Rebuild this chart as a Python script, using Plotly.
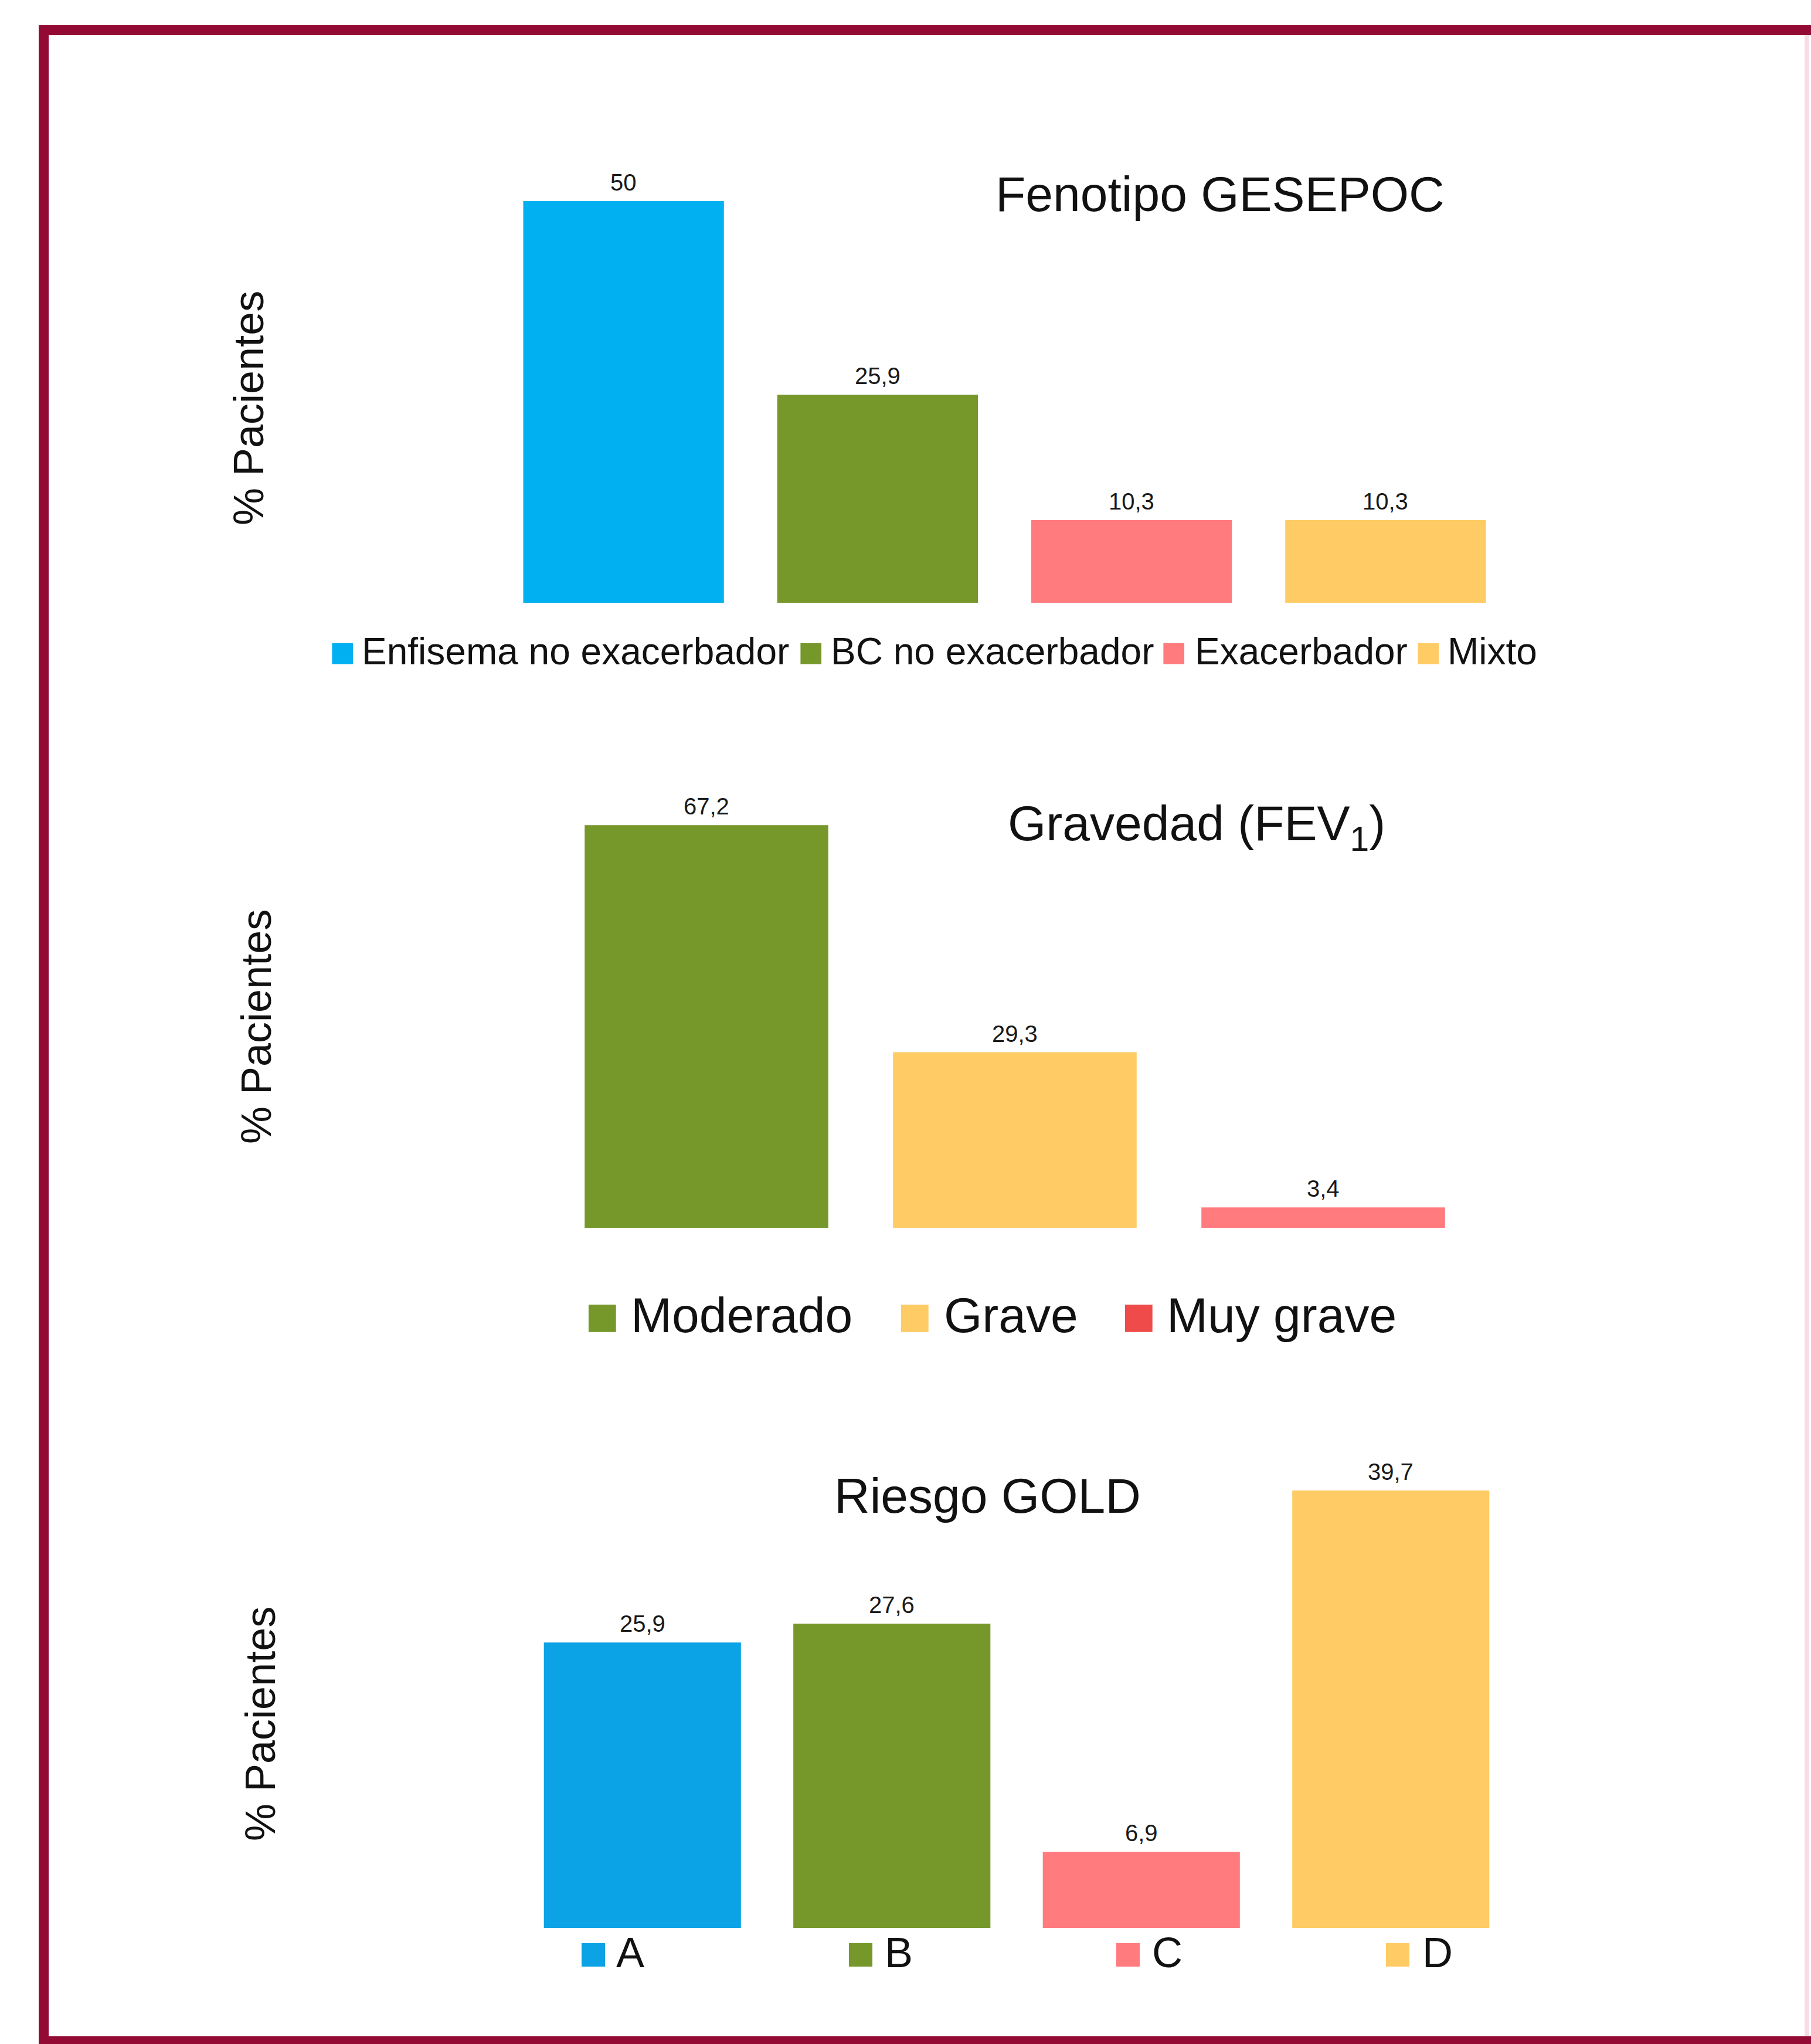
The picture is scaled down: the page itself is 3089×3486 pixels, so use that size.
import plotly.graph_objects as go

W, H = 3089, 3486
FONT = "Liberation Sans, Arial, Helvetica, sans-serif"

# ---- data -------------------------------------------------------------
fenotipo_cats = ["Enfisema no exacerbador", "BC no exacerbador", "Exacerbador", "Mixto"]
fenotipo_vals = [50, 25.9, 10.3, 10.3]
fenotipo_colors = ["#00B0F0", "#76982B", "#FF7B7E", "#FFCB65"]

gravedad_cats = ["Moderado", "Grave", "Muy grave"]
gravedad_vals = [67.2, 29.3, 3.4]
gravedad_colors = ["#76982B", "#FFCB65", "#FF7B7E"]
gravedad_key_colors = ["#76982B", "#FFCB65", "#F04B4B"]

gold_cats = ["A", "B", "C", "D"]
gold_vals = [25.9, 27.6, 6.9, 39.7]
gold_colors = ["#0BA3E6", "#76982B", "#FF7B7E", "#FFCB65"]


def fmt(v):
    return f"{v:g}".replace(".", ",")


def px(x):
    return x / W


def py(y):
    return 1 - y / H


fig = go.Figure()
ann = []

panels = [
    # cats, vals, colors, axis suffix
    (fenotipo_cats, fenotipo_vals, fenotipo_colors, ""),
    (gravedad_cats, gravedad_vals, gravedad_colors, "2"),
    (gold_cats, gold_vals, gold_colors, "3"),
]
for cats, vals, colors, s in panels:
    fig.add_trace(go.Bar(
        x=cats, y=vals,
        marker=dict(color=colors, line=dict(width=0)),
        showlegend=False,
        xaxis="x" + s, yaxis="y" + s,
    ))
    # value labels just above each bar
    for c, v in zip(cats, vals):
        ann.append(dict(xref="x" + s, yref="y" + s, x=c, y=v, text=fmt(v),
                        showarrow=False, xanchor="center", yanchor="middle",
                        yshift=32, font=dict(family=FONT, size=40, color="#1a1a1a")))

hidden = dict(showgrid=False, zeroline=False, showline=False,
              showticklabels=False, ticks="", fixedrange=True)

fig.update_layout(
    width=W, height=H,
    margin=dict(l=0, r=0, t=0, b=0),
    paper_bgcolor="white", plot_bgcolor="white",
    bargap=0.21,
    font=dict(family=FONT, color="#111111"),
    xaxis=dict(domain=[px(847), px(2580)], range=[-0.5, 3.5], **hidden),
    yaxis=dict(domain=[py(1028), py(206)], range=[0, 60], **hidden),
    xaxis2=dict(domain=[px(942), px(2520)], range=[-0.5, 2.5], anchor="y2", **hidden),
    yaxis2=dict(domain=[py(2094), py(1276.4)], range=[0, 80], anchor="x2", **hidden),
    xaxis3=dict(domain=[px(883), px(2585)], range=[-0.5, 3.5], anchor="y3", **hidden),
    yaxis3=dict(domain=[py(3288), py(2442.4)], range=[0, 45], anchor="x3", **hidden),
)


def text_at(x, y, t, size, xanchor="center", angle=0, color="#111111"):
    ann.append(dict(xref="paper", yref="paper", x=px(x), y=py(y), text=t,
                    showarrow=False, xanchor=xanchor, yanchor="middle",
                    textangle=angle, font=dict(family=FONT, size=size, color=color)))


# panel titles
text_at(2081, 331, "Fenotipo GESEPOC", 84)
text_at(2041, 1410, "Gravedad (FEV<sub>1</sub>)", 84)
text_at(1684, 2551, "Riesgo GOLD", 84)

# y-axis titles
for xc, yc in [(424, 696), (437, 1751), (444, 2940)]:
    text_at(xc, yc, "% Pacientes", 72, angle=-90)

# legends: colored key glyph + label
legend_rows = [
    (fenotipo_cats, fenotipo_colors, 64, [584, 1383, 2002, 2436], [615, 1415, 2036, 2467], 1111),
    (gravedad_cats, gravedad_key_colors, 84, [1027, 1560, 1942], [1074, 1608, 1988], 2243),
    (gold_cats, gold_colors, 72, [1012, 1468, 1924, 2384], [1049, 1507, 1963, 2424], 3330),
]
for labels, cols, size, kx, tx, yc in legend_rows:
    for lab, col, x_key, x_txt in zip(labels, cols, kx, tx):
        text_at(x_key, yc, "\u25A0", size * 1.15, color=col)
        text_at(x_txt, yc, lab, size, xanchor="left")

fig.update_layout(annotations=ann)

# frame around the figure
fig.add_shape(type="path", xref="paper", yref="paper",
              path=f"M {px(3300)} {py(51.5)} L {px(74.5)} {py(51.5)} "
                   f"L {px(74.5)} {py(3481)} L {px(3300)} {py(3481)}",
              line=dict(color="#930B35", width=17))
fig.add_shape(type="line", xref="paper", yref="paper",
              x0=px(3082), x1=px(3082), y0=py(60), y1=py(3472),
              line=dict(color="#F7DCE6", width=8))

fig.write_html("out.html")
